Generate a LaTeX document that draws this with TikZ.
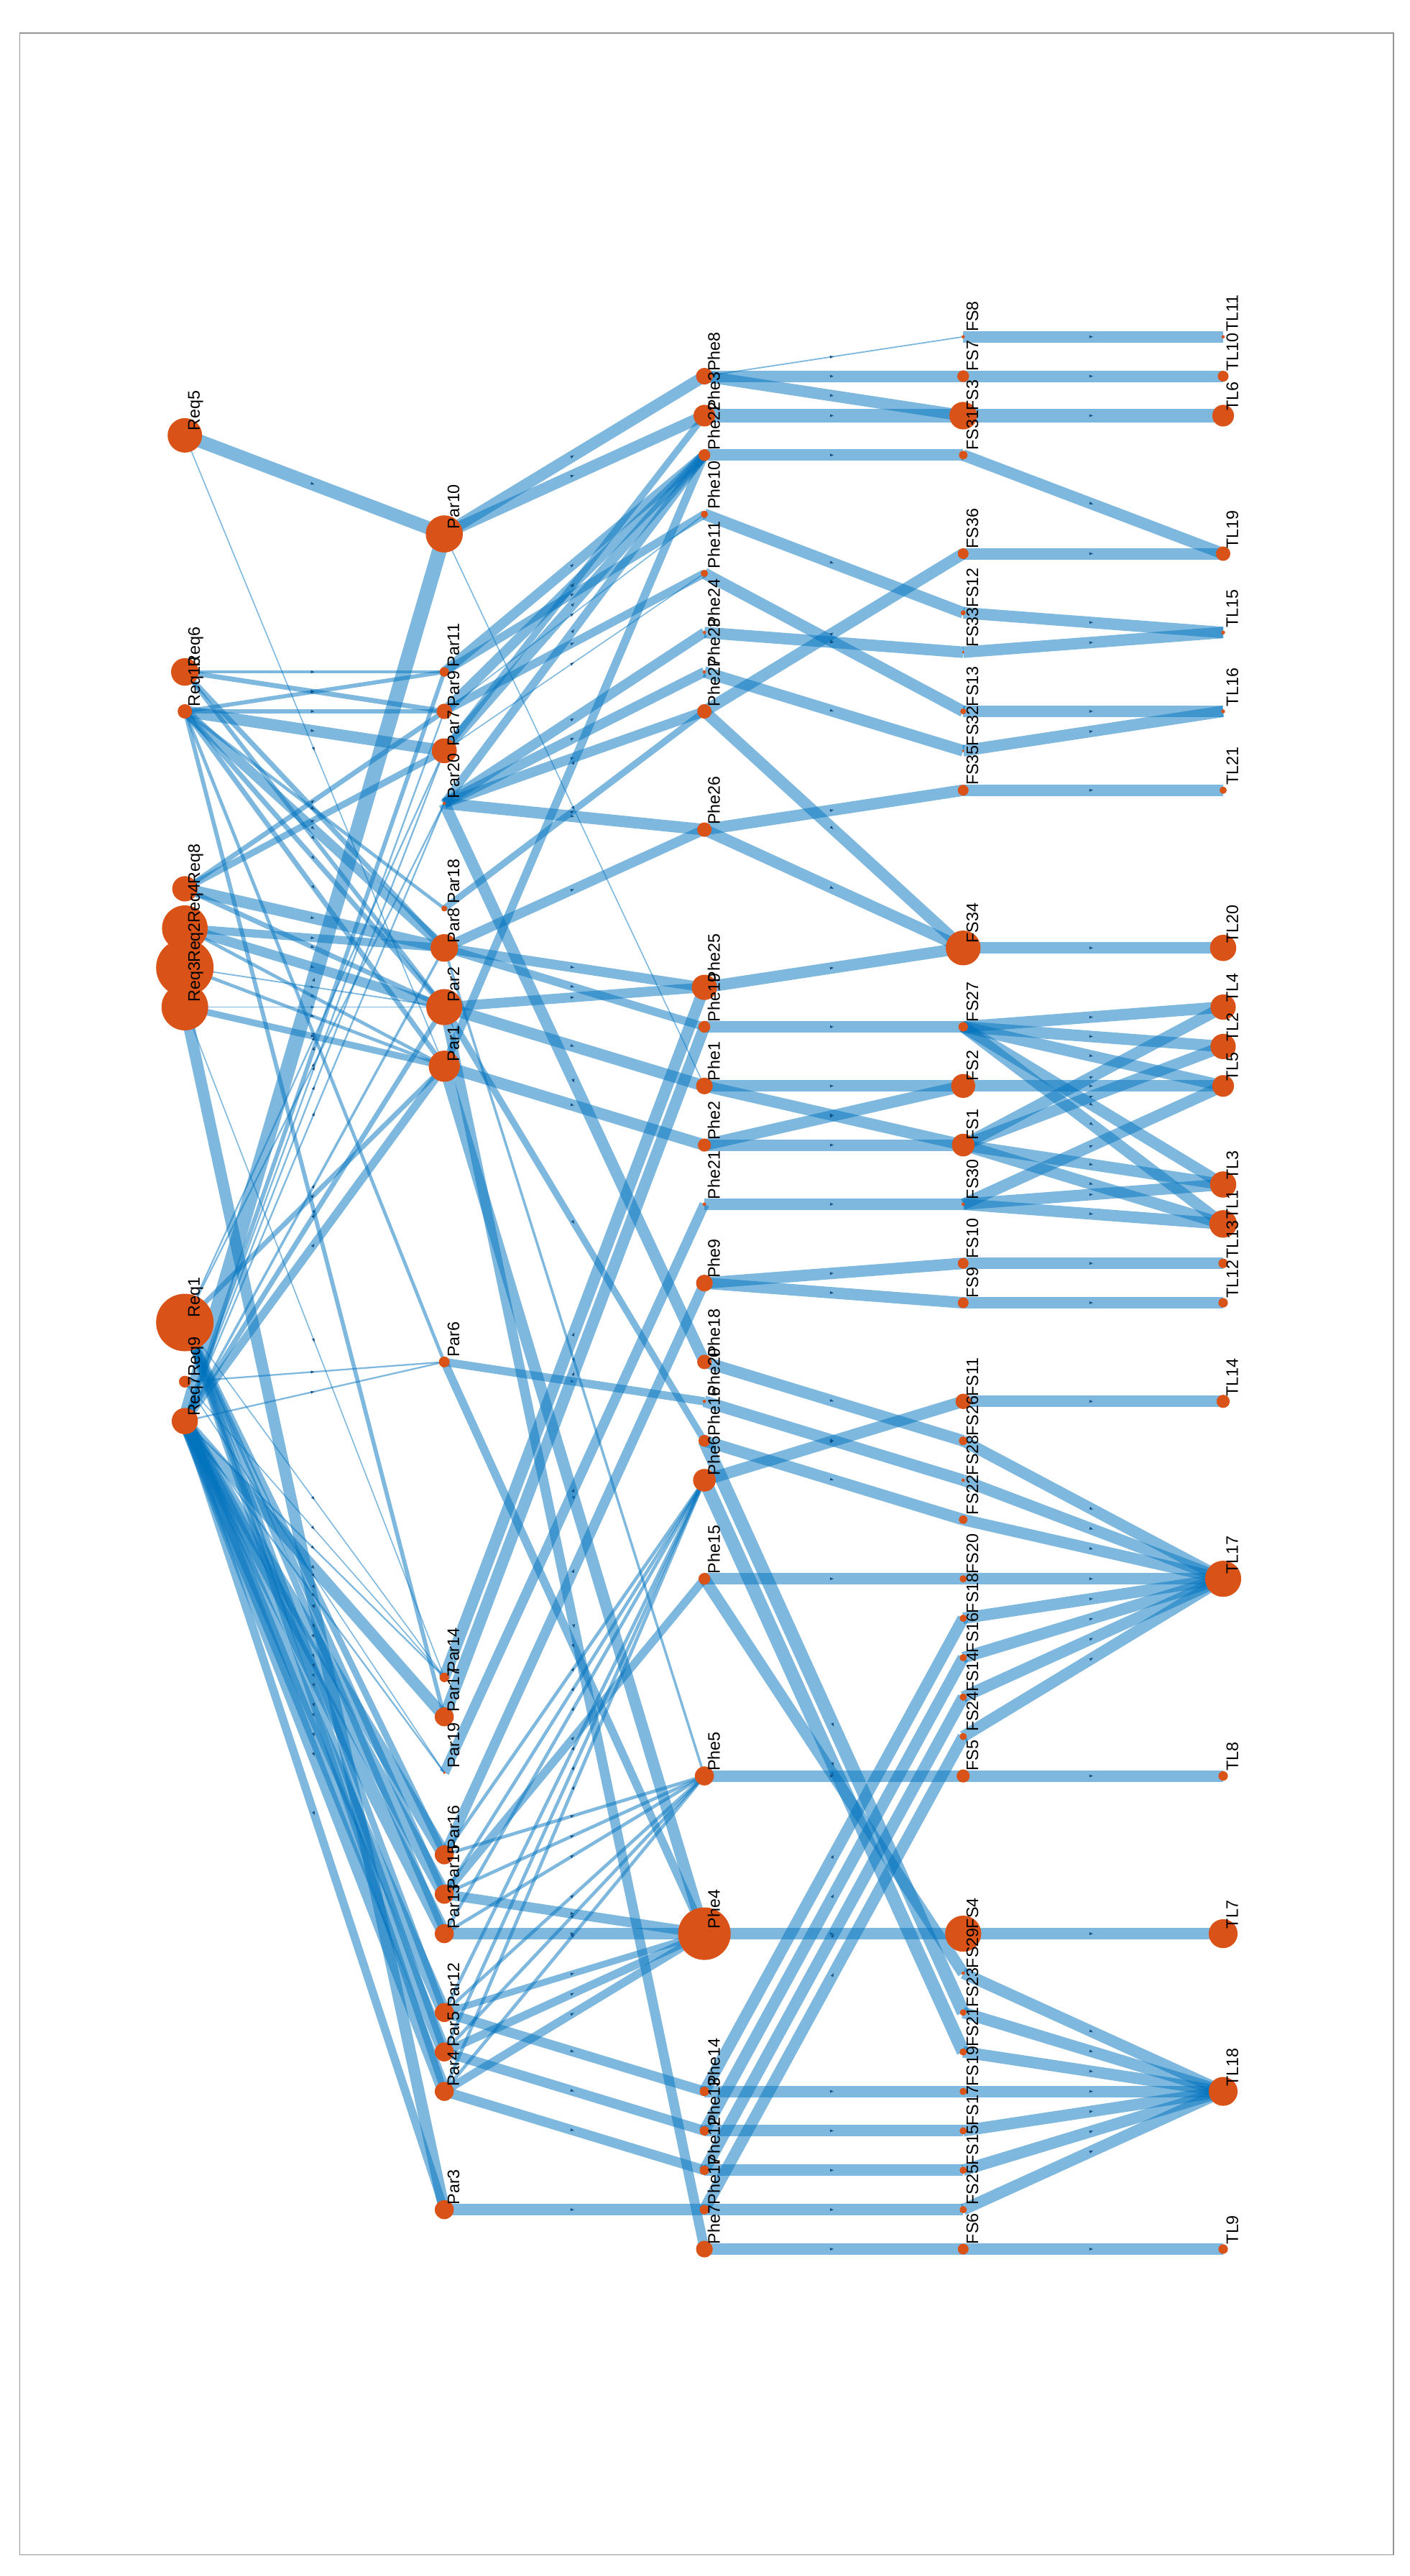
\documentclass[tikz,border=0pt]{standalone}
\usepackage{fontspec}
\setmainfont{Liberation Sans}
\usetikzlibrary{arrows.meta,decorations.markings}
\pgfdeclarelayer{edges}
\pgfsetlayers{edges,main}
\definecolor{edgeblue}{RGB}{0,114,189}
\definecolor{arrowblue}{RGB}{20,80,130}
\definecolor{nodeorange}{RGB}{217,83,25}
\definecolor{framegray}{RGB}{150,150,150}
\tikzset{
  dot/.style={circle, fill=nodeorange, draw=none, inner sep=0pt, outer sep=0pt},
  lab/.style={rotate=90, anchor=north west, inner sep=0pt, outer sep=0pt, font=\fontsize{5.8}{6}\selectfont, text=black},
  edge/.style={draw=edgeblue, draw opacity=0.5, line cap=butt},
  midarrow/.style={postaction={decorate, decoration={markings, mark=at position 0.5 with {\arrow{Latex[length=1.3pt,width=1.0pt,line width=0pt,color=arrowblue]}}}}}
}
\newcommand\Vdot[4]{\node[dot, minimum size=#4*0.04cm] (#1) at (#2,#3) {};}
\newcommand\Vlab[4]{\node[lab] (#1-lab) at ({#2+2},{#3-3}) {#1};}
\newcommand\Edge[3]{\draw[edge, midarrow, line width=#3*0.569pt] (#1.center) -- (#2.center);}
\newcommand\NodeList{%
\vtx{Req5}{112.5}{265}{10.5}
\vtx{Req6}{112.5}{409}{8.4}
\vtx{Req10}{112.5}{433}{4.4}
\vtx{Req8}{112.5}{541}{7.7}
\vtx{Req4}{112.5}{565}{13.9}
\vtx{Req2}{112.5}{589}{17.5}
\vtx{Req3}{112.5}{613}{14.2}
\vtx{Req1}{112.5}{805}{17.5}
\vtx{Req9}{112.5}{841}{3.6}
\vtx{Req7}{112.5}{865}{8}
\vtx{Par10}{270.4}{325}{11.3}
\vtx{Par11}{270.4}{409}{2.9}
\vtx{Par9}{270.4}{433}{4.7}
\vtx{Par7}{270.4}{457}{7.6}
\vtx{Par20}{270.4}{489}{1}
\vtx{Par18}{270.4}{553}{1.8}
\vtx{Par8}{270.4}{577}{8.4}
\vtx{Par2}{270.4}{613}{11}
\vtx{Par1}{270.4}{649}{9.5}
\vtx{Par6}{270.4}{829}{3.3}
\vtx{Par14}{270.4}{1021}{2.9}
\vtx{Par17}{270.4}{1045}{5.8}
\vtx{Par19}{270.4}{1079}{0.8}
\vtx{Par16}{270.4}{1129}{5.8}
\vtx{Par15}{270.4}{1153}{5.8}
\vtx{Par13}{270.4}{1177}{5.8}
\vtx{Par12}{270.4}{1225}{5.8}
\vtx{Par5}{270.4}{1249}{5.8}
\vtx{Par4}{270.4}{1273}{5.8}
\vtx{Par3}{270.4}{1345}{5.8}
\vtx{Phe8}{428.7}{229}{5.1}
\vtx{Phe3}{428.7}{253}{6.6}
\vtx{Phe22}{428.7}{277}{3.6}
\vtx{Phe10}{428.7}{313}{2.2}
\vtx{Phe11}{428.7}{349}{2.2}
\vtx{Phe24}{428.7}{385}{1}
\vtx{Phe23}{428.7}{409}{1}
\vtx{Phe27}{428.7}{433}{4.4}
\vtx{Phe26}{428.7}{505}{4.4}
\vtx{Phe25}{428.7}{601}{7.7}
\vtx{Phe19}{428.7}{625}{3.6}
\vtx{Phe1}{428.7}{661}{5.1}
\vtx{Phe2}{428.7}{697}{4}
\vtx{Phe21}{428.7}{733}{1.1}
\vtx{Phe9}{428.7}{781}{5.1}
\vtx{Phe18}{428.7}{829}{4.4}
\vtx{Phe20}{428.7}{853}{1}
\vtx{Phe16}{428.7}{877}{3.6}
\vtx{Phe6}{428.7}{901}{6.9}
\vtx{Phe15}{428.7}{961}{3.6}
\vtx{Phe5}{428.7}{1081}{5.8}
\vtx{Phe4}{428.7}{1177}{16}
\vtx{Phe14}{428.7}{1273}{2.9}
\vtx{Phe13}{428.7}{1297}{2.9}
\vtx{Phe12}{428.7}{1321}{2.9}
\vtx{Phe17}{428.7}{1345}{2.9}
\vtx{Phe7}{428.7}{1369}{5.1}
\vtx{FS8}{586.2}{205}{1}
\vtx{FS7}{586.2}{229}{3.6}
\vtx{FS3}{586.2}{253}{8.4}
\vtx{FS31}{586.2}{277}{2.6}
\vtx{FS36}{586.2}{337}{3.3}
\vtx{FS12}{586.2}{373}{1.5}
\vtx{FS33}{586.2}{397}{0.8}
\vtx{FS13}{586.2}{433}{1.8}
\vtx{FS32}{586.2}{457}{0.8}
\vtx{FS35}{586.2}{481}{3.3}
\vtx{FS34}{586.2}{577}{10.6}
\vtx{FS27}{586.2}{625}{2.9}
\vtx{FS2}{586.2}{661}{7.3}
\vtx{FS1}{586.2}{697}{6.9}
\vtx{FS30}{586.2}{733}{1}
\vtx{FS10}{586.2}{769}{3.3}
\vtx{FS9}{586.2}{793}{3.3}
\vtx{FS11}{586.2}{853}{4.7}
\vtx{FS26}{586.2}{877}{2.6}
\vtx{FS28}{586.2}{901}{1}
\vtx{FS22}{586.2}{925}{2.6}
\vtx{FS20}{586.2}{961}{2.2}
\vtx{FS18}{586.2}{985}{2.2}
\vtx{FS16}{586.2}{1009}{2.2}
\vtx{FS14}{586.2}{1033}{2.2}
\vtx{FS24}{586.2}{1057}{2.2}
\vtx{FS5}{586.2}{1081}{4}
\vtx{FS4}{586.2}{1177}{11}
\vtx{FS29}{586.2}{1201}{1}
\vtx{FS23}{586.2}{1225}{2}
\vtx{FS21}{586.2}{1249}{2.2}
\vtx{FS19}{586.2}{1273}{2.2}
\vtx{FS17}{586.2}{1297}{2.2}
\vtx{FS15}{586.2}{1321}{2.2}
\vtx{FS25}{586.2}{1345}{2.2}
\vtx{FS6}{586.2}{1369}{3.3}
\vtx{TL11}{744.4}{205}{1}
\vtx{TL10}{744.4}{229}{3.3}
\vtx{TL6}{744.4}{253}{6.6}
\vtx{TL19}{744.4}{337}{4.4}
\vtx{TL15}{744.4}{385}{1.2}
\vtx{TL16}{744.4}{433}{1.2}
\vtx{TL21}{744.4}{481}{2.2}
\vtx{TL20}{744.4}{577}{8}
\vtx{TL4}{744.4}{613}{7.7}
\vtx{TL2}{744.4}{637}{7.7}
\vtx{TL5}{744.4}{661}{6.6}
\vtx{TL3}{744.4}{721}{8}
\vtx{TL1}{744.4}{745}{8.4}
\vtx{TL13}{744.4}{769}{2.9}
\vtx{TL12}{744.4}{793}{2.9}
\vtx{TL14}{744.4}{853}{4}
\vtx{TL17}{744.4}{961}{11}
\vtx{TL8}{744.4}{1081}{2.9}
\vtx{TL7}{744.4}{1177}{8.8}
\vtx{TL18}{744.4}{1273}{8.8}
\vtx{TL9}{744.4}{1369}{2.9}
}
\begin{document}
\begin{tikzpicture}[x=0.02cm, y=-0.02cm]
\useasboundingbox (0,0) rectangle (858,1568);
\draw[framegray, line width=0.4pt] (12,20) rectangle (848,1555);
\let\vtx\Vdot
\NodeList
\let\vtx\Vlab
\NodeList
\begin{pgfonlayer}{edges}
% Req -> Par
\Edge{Req5}{Par10}{8}
\Edge{Req5}{Par1}{0.7}
\Edge{Req6}{Par11}{1.5}
\Edge{Req6}{Par9}{3}
\Edge{Req6}{Par8}{3}
\Edge{Req6}{Par2}{2.5}
\Edge{Req10}{Par11}{2.5}
\Edge{Req10}{Par9}{3}
\Edge{Req10}{Par7}{7}
\Edge{Req10}{Par18}{2}
\Edge{Req10}{Par8}{6}
\Edge{Req10}{Par2}{3}
\Edge{Req10}{Par1}{3}
\Edge{Req10}{Par6}{2}
\Edge{Req10}{Par17}{2.5}
\Edge{Req8}{Par9}{3}
\Edge{Req8}{Par7}{4}
\Edge{Req8}{Par8}{7}
\Edge{Req8}{Par2}{3}
\Edge{Req4}{Par8}{5}
\Edge{Req4}{Par2}{6}
\Edge{Req4}{Par1}{2}
\Edge{Req2}{Par2}{0.8}
\Edge{Req2}{Par1}{2}
\Edge{Req3}{Par2}{0.8}
\Edge{Req3}{Par1}{4}
\Edge{Req3}{Par3}{7}
\Edge{Req3}{Par14}{0.7}
\Edge{Req7}{Par10}{9}
\Edge{Req7}{Par11}{2.5}
\Edge{Req7}{Par9}{1}
\Edge{Req7}{Par7}{1}
\Edge{Req7}{Par20}{1}
\Edge{Req7}{Par8}{1.5}
\Edge{Req7}{Par2}{3}
\Edge{Req7}{Par1}{5}
\Edge{Req7}{Par6}{1}
\Edge{Req7}{Par14}{1}
\Edge{Req7}{Par17}{7}
\Edge{Req7}{Par19}{1}
\Edge{Req7}{Par16}{8}
\Edge{Req7}{Par15}{8}
\Edge{Req7}{Par13}{8}
\Edge{Req7}{Par12}{8}
\Edge{Req7}{Par5}{8}
\Edge{Req7}{Par4}{8}
\Edge{Req7}{Par3}{5}
\Edge{Req1}{Par20}{1}
\Edge{Req1}{Par7}{1}
\Edge{Req1}{Par1}{3}
\Edge{Req1}{Par14}{0.7}
\Edge{Req1}{Par16}{4}
\Edge{Req1}{Par15}{4}
\Edge{Req1}{Par13}{4}
\Edge{Req1}{Par12}{4}
\Edge{Req1}{Par5}{4}
\Edge{Req1}{Par4}{4}
\Edge{Req9}{Par6}{1}
\Edge{Req9}{Par14}{0.7}
\Edge{Req9}{Par19}{0.7}
% Par -> Phe
\Edge{Par10}{Phe8}{7}
\Edge{Par10}{Phe3}{7}
\Edge{Par10}{Phe1}{0.7}
\Edge{Par11}{Phe22}{6}
\Edge{Par11}{Phe10}{5}
\Edge{Par9}{Phe22}{6}
\Edge{Par9}{Phe11}{5}
\Edge{Par9}{Phe10}{0.7}
\Edge{Par7}{Phe22}{6}
\Edge{Par7}{Phe3}{4}
\Edge{Par7}{Phe11}{0.7}
\Edge{Par20}{Phe22}{5}
\Edge{Par20}{Phe24}{6}
\Edge{Par20}{Phe23}{6}
\Edge{Par20}{Phe27}{6}
\Edge{Par20}{Phe26}{7}
\Edge{Par20}{Phe18}{7}
\Edge{Par18}{Phe27}{4}
\Edge{Par8}{Phe26}{6}
\Edge{Par8}{Phe25}{6}
\Edge{Par8}{Phe19}{5}
\Edge{Par8}{Phe5}{1.5}
\Edge{Par2}{Phe25}{6}
\Edge{Par2}{Phe1}{7}
\Edge{Par2}{Phe7}{6}
\Edge{Par2}{Phe16}{4}
\Edge{Par1}{Phe22}{5}
\Edge{Par1}{Phe2}{7}
\Edge{Par1}{Phe4}{7}
\Edge{Par6}{Phe20}{5}
\Edge{Par6}{Phe4}{5}
\Edge{Par14}{Phe25}{7}
\Edge{Par17}{Phe19}{7}
\Edge{Par19}{Phe21}{6}
\Edge{Par16}{Phe9}{6}
\Edge{Par16}{Phe6}{2}
\Edge{Par16}{Phe5}{2}
\Edge{Par15}{Phe6}{2}
\Edge{Par15}{Phe15}{5}
\Edge{Par15}{Phe5}{2}
\Edge{Par15}{Phe4}{6}
\Edge{Par13}{Phe6}{2}
\Edge{Par13}{Phe5}{2}
\Edge{Par13}{Phe4}{7}
\Edge{Par12}{Phe6}{2}
\Edge{Par12}{Phe5}{2}
\Edge{Par12}{Phe4}{4}
\Edge{Par12}{Phe14}{6}
\Edge{Par5}{Phe6}{2}
\Edge{Par5}{Phe5}{2}
\Edge{Par5}{Phe4}{5}
\Edge{Par5}{Phe13}{6}
\Edge{Par4}{Phe6}{2}
\Edge{Par4}{Phe5}{2}
\Edge{Par4}{Phe4}{5}
\Edge{Par4}{Phe12}{6}
\Edge{Par3}{Phe17}{7}
% Phe -> FS
\Edge{Phe8}{FS8}{0.8}
\Edge{Phe8}{FS7}{7}
\Edge{Phe8}{FS3}{7}
\Edge{Phe3}{FS3}{8}
\Edge{Phe22}{FS31}{7}
\Edge{Phe10}{FS12}{7}
\Edge{Phe11}{FS13}{7}
\Edge{Phe24}{FS33}{7}
\Edge{Phe23}{FS32}{7}
\Edge{Phe27}{FS36}{7}
\Edge{Phe27}{FS34}{7}
\Edge{Phe26}{FS35}{7}
\Edge{Phe26}{FS34}{7}
\Edge{Phe25}{FS34}{7}
\Edge{Phe19}{FS27}{7}
\Edge{Phe1}{FS2}{7}
\Edge{Phe1}{FS1}{7}
\Edge{Phe2}{FS1}{7}
\Edge{Phe2}{FS2}{7}
\Edge{Phe21}{FS30}{7}
\Edge{Phe9}{FS10}{7}
\Edge{Phe9}{FS9}{7}
\Edge{Phe18}{FS26}{7}
\Edge{Phe20}{FS28}{7}
\Edge{Phe16}{FS22}{7}
\Edge{Phe6}{FS11}{7}
\Edge{Phe15}{FS20}{7}
\Edge{Phe15}{FS29}{7}
\Edge{Phe16}{FS23}{8}
\Edge{Phe6}{FS21}{8}
\Edge{Phe5}{FS5}{7}
\Edge{Phe4}{FS4}{7}
\Edge{Phe14}{FS19}{7}
\Edge{Phe14}{FS18}{7}
\Edge{Phe13}{FS17}{7}
\Edge{Phe13}{FS16}{7}
\Edge{Phe12}{FS15}{7}
\Edge{Phe12}{FS14}{7}
\Edge{Phe17}{FS25}{7}
\Edge{Phe17}{FS24}{7}
\Edge{Phe7}{FS6}{7}
% FS -> TL
\Edge{FS8}{TL11}{7}
\Edge{FS7}{TL10}{7}
\Edge{FS3}{TL6}{8}
\Edge{FS31}{TL19}{7}
\Edge{FS36}{TL19}{7}
\Edge{FS12}{TL15}{7}
\Edge{FS33}{TL15}{7}
\Edge{FS13}{TL16}{7}
\Edge{FS32}{TL16}{7}
\Edge{FS35}{TL21}{7}
\Edge{FS34}{TL20}{7}
\Edge{FS27}{TL4}{7}
\Edge{FS27}{TL2}{7}
\Edge{FS27}{TL5}{7}
\Edge{FS27}{TL3}{7}
\Edge{FS27}{TL1}{7}
\Edge{FS2}{TL5}{7}
\Edge{FS1}{TL4}{7}
\Edge{FS1}{TL2}{7}
\Edge{FS1}{TL3}{7}
\Edge{FS1}{TL1}{7}
\Edge{FS30}{TL5}{7}
\Edge{FS30}{TL3}{7}
\Edge{FS30}{TL1}{7}
\Edge{FS10}{TL13}{7}
\Edge{FS9}{TL12}{7}
\Edge{FS11}{TL14}{7}
\Edge{FS26}{TL17}{7}
\Edge{FS28}{TL17}{7}
\Edge{FS22}{TL17}{7}
\Edge{FS20}{TL17}{7}
\Edge{FS18}{TL17}{7}
\Edge{FS16}{TL17}{7}
\Edge{FS14}{TL17}{7}
\Edge{FS24}{TL17}{7}
\Edge{FS5}{TL8}{7}
\Edge{FS4}{TL7}{7}
\Edge{FS29}{TL18}{7}
\Edge{FS23}{TL18}{7}
\Edge{FS21}{TL18}{7}
\Edge{FS19}{TL18}{7}
\Edge{FS17}{TL18}{7}
\Edge{FS15}{TL18}{7}
\Edge{FS25}{TL18}{7}
\Edge{FS6}{TL9}{7}
\end{pgfonlayer}
\end{tikzpicture}
\end{document}
